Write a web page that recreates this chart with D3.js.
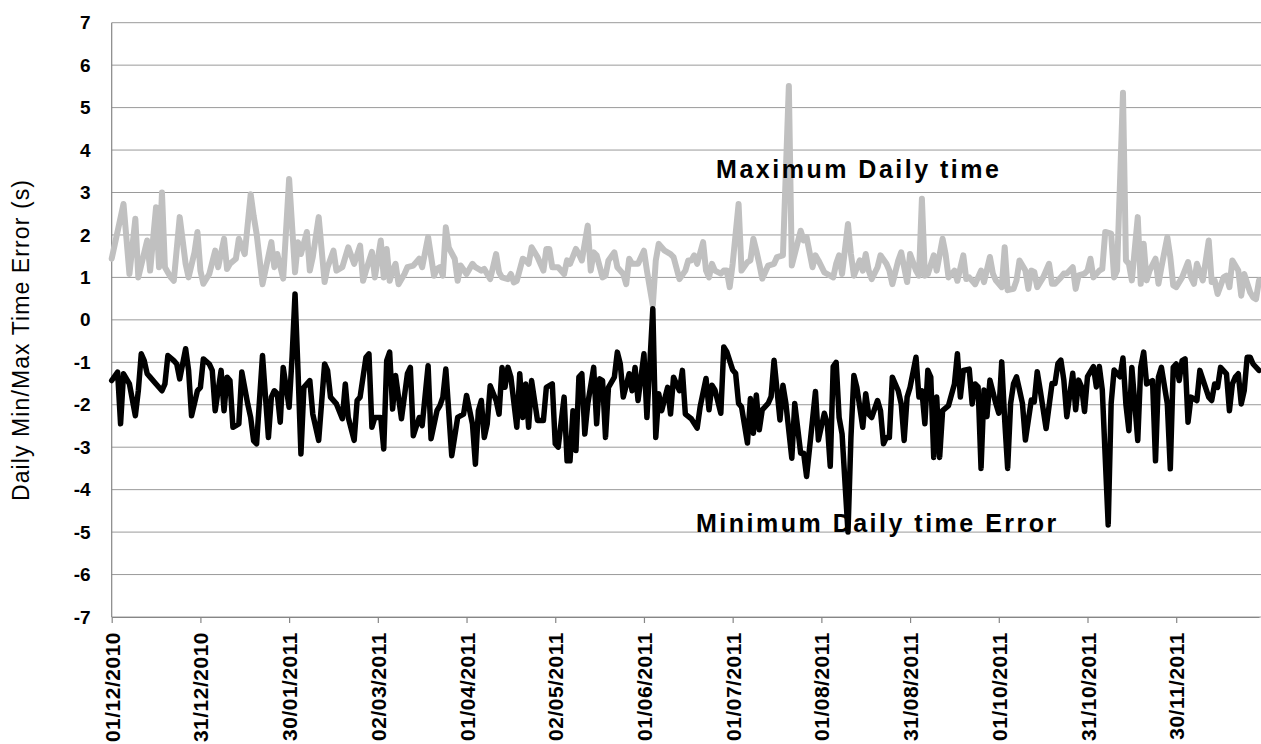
<!DOCTYPE html>
<meta charset="utf-8">
<script src="https://cdn.jsdelivr.net/npm/d3@7/dist/d3.min.js"></script>
<style>
body { margin: 0; background: #fff; }
text { font-family: "Liberation Sans", Arial, sans-serif; fill: #000; }
.grid line { stroke: #9a9a9a; stroke-width: 1px; }
.axis path, .axis line { stroke: #868686; stroke-width: 1.2px; }
.axis text { font-weight: bold; }
.line { fill: none; stroke-linejoin: round; stroke-linecap: round; }
</style>
<body>
<script>

// y axis ticks
var yTicks = [-7, -6, -5, -4, -3, -2, -1, 0, 1, 2, 3, 4, 5, 6, 7];

// x labels sit on every 30th day of the series
var xTickDays = [0, 30, 60, 90, 120, 150, 180, 210, 240, 270, 300, 330, 360];
var xLabels = ["01/12/2010", "31/12/2010", "30/01/2011", "02/03/2011", "01/04/2011",
  "02/05/2011", "01/06/2011", "01/07/2011", "01/08/2011", "31/08/2011",
  "01/10/2011", "31/10/2011", "30/11/2011"];
var lastDay = 388;

// maximum daily time error (grey) - day index, value (s)
var maxDays = [0,4,6,8,9,12,13,15,16,17,18,20,21,23,25,26,28,29,30,31,33,35,36,38,39,40,42,43,45,47,48,49,51,54,55,56,58,60,62,63,64,66,67,68,70,72,73,75,76,78,80,82,84,85,86,88,89,91,92,93,94,95,96,97,99,100,102,103,104,105,107,109,110,111,112,113,114,116,117,118,120,122,123,125,126,128,130,131,132,134,135,136,137,139,140,141,142,144,146,147,148,149,151,153,154,155,157,158,159,161,162,163,164,166,167,168,170,171,172,173,174,175,176,178,180,181,183,184,185,187,189,190,192,194,195,196,197,198,200,201,202,203,204,206,207,208,209,210,212,213,215,216,217,218,219,220,222,224,225,227,229,230,233,234,235,237,238,239,241,242,244,245,246,247,249,250,251,253,254,255,256,257,259,260,262,263,264,266,267,269,270,272,273,274,275,276,278,279,281,282,283,285,286,288,289,290,292,293,294,295,297,298,299,301,302,303,305,306,307,309,310,311,312,313,315,317,318,319,321,322,323,325,326,327,329,330,331,332,334,335,336,338,339,340,342,343,344,345,347,348,349,350,351,353,354,355,357,358,359,360,362,364,365,366,367,369,371,372,373,374,376,377,378,379,381,382,383,385,386,387,388];
var maxVals = [1.44,2.73,1.08,2.38,1.0,1.87,1.16,2.65,1.24,3.0,1.24,1.0,0.92,2.42,1.32,1.0,1.59,2.07,1.16,0.85,1.08,1.63,1.24,1.91,1.2,1.32,1.44,1.91,1.55,2.96,2.45,2.03,0.84,1.83,1.24,1.55,0.97,3.32,1.12,1.83,1.55,2.07,1.16,1.48,2.42,0.89,1.24,1.63,1.16,1.24,1.71,1.32,1.75,0.92,1.16,1.6,1.0,1.87,1.0,1.67,0.92,1.16,1.32,0.84,1.08,1.24,1.28,1.36,1.44,1.24,1.95,1.04,1.2,1.24,1.04,2.18,1.7,1.44,0.92,1.28,1.08,1.32,1.24,1.16,1.2,0.96,1.55,1.12,1.0,0.96,1.08,0.88,0.92,1.44,1.4,1.32,1.71,1.48,1.16,1.67,1.67,1.24,1.24,1.08,1.4,1.32,1.67,1.55,1.4,2.22,1.16,1.59,1.52,1.0,1.04,1.4,1.59,1.24,1.16,1.08,0.84,1.44,1.32,1.32,1.63,1.16,0.34,1.4,1.79,1.63,1.55,1.48,0.96,1.16,1.4,1.4,1.52,1.32,1.83,1.16,1.0,1.32,1.16,1.09,1.16,1.16,0.77,1.32,2.73,1.16,1.36,1.4,1.91,1.63,1.32,0.97,1.28,1.32,1.48,1.52,5.51,1.28,2.1,1.87,1.95,1.24,1.52,1.4,1.12,1.08,1.0,1.32,1.52,1.08,2.26,1.55,1.04,1.4,1.16,1.55,1.16,0.96,1.24,1.52,1.32,1.16,0.84,1.4,1.59,0.89,1.55,1.16,1.04,2.85,1.04,1.08,1.52,1.16,1.91,1.55,1.0,1.16,0.92,1.52,0.96,1.0,0.84,1.0,1.16,0.89,1.48,1.09,0.93,0.77,1.71,0.7,0.73,0.93,1.4,1.16,0.73,1.16,1.13,0.77,1.0,1.32,0.85,0.85,1.0,1.09,1.09,1.24,0.73,1.05,1.09,1.16,1.44,1.0,1.16,1.2,2.07,2.03,1.0,1.16,5.35,1.4,1.32,0.93,2.42,0.85,1.79,0.93,1.16,1.44,0.85,1.24,1.95,1.48,0.81,0.77,1.0,1.36,1.0,0.85,1.32,0.93,1.87,0.89,0.93,0.61,1.0,1.04,0.77,1.4,1.16,0.57,1.08,0.65,0.53,0.49,0.93];

// minimum daily time error (black) - day index, value (s)
var minDays = [0,2,3,4,6,8,9,10,11,12,13,15,17,18,19,21,22,23,25,26,27,29,30,31,33,34,35,37,38,39,40,41,43,44,46,47,48,49,51,53,54,55,56,57,58,60,61,62,63,64,65,67,68,70,72,73,74,76,78,79,80,82,83,84,86,87,88,89,91,92,93,94,95,96,98,100,101,102,104,105,107,108,110,111,112,113,115,117,119,120,122,123,124,125,126,127,128,130,131,132,133,134,135,137,138,139,140,141,142,144,146,147,149,150,151,153,154,155,156,157,158,159,160,161,163,164,165,166,167,168,170,171,172,173,175,176,177,178,180,181,183,184,185,186,188,189,190,192,193,194,196,198,199,201,202,203,204,206,207,208,210,211,212,213,215,216,217,218,219,220,222,223,224,226,227,228,230,231,233,234,235,237,238,239,241,242,243,244,245,246,247,249,250,251,252,254,255,256,257,259,260,261,262,263,264,266,267,268,269,270,272,273,274,275,276,277,278,279,280,281,283,285,286,287,288,290,291,292,293,294,295,296,297,299,300,301,302,303,304,305,306,307,308,309,311,312,313,314,316,318,319,320,321,322,323,325,326,327,328,329,330,332,333,334,335,337,338,339,341,342,343,344,345,347,348,349,350,352,353,354,355,357,358,359,360,361,362,363,364,365,367,368,371,372,373,374,375,377,378,379,380,381,382,383,384,385,386,388];
var minVals = [-1.43,-1.23,-2.45,-1.27,-1.51,-2.26,-1.67,-0.8,-0.96,-1.27,-1.35,-1.51,-1.67,-1.51,-0.84,-0.96,-1.04,-1.39,-0.68,-1.19,-2.26,-1.67,-1.59,-0.92,-1.04,-1.19,-2.14,-1.19,-2.14,-1.35,-1.43,-2.53,-2.45,-1.23,-1.98,-2.3,-2.85,-2.92,-0.84,-2.77,-1.82,-1.67,-1.74,-2.41,-1.12,-2.06,-0.88,0.61,-1.19,-3.16,-1.59,-1.43,-2.22,-2.84,-1.04,-1.19,-1.82,-1.98,-2.33,-1.51,-2.3,-2.84,-1.9,-1.82,-0.88,-0.8,-2.53,-2.3,-2.3,-3.04,-0.96,-0.76,-2.1,-1.31,-2.33,-1.27,-1.12,-2.73,-2.3,-2.49,-1.08,-2.8,-2.14,-2.02,-1.82,-1.16,-3.2,-2.3,-2.22,-1.78,-2.45,-3.4,-2.14,-1.9,-2.77,-2.45,-1.55,-1.9,-2.22,-1.12,-1.59,-1.12,-1.35,-2.53,-1.27,-2.3,-1.51,-2.53,-1.43,-2.37,-2.37,-1.59,-1.51,-2.92,-3.0,-1.82,-3.32,-3.32,-2.14,-3.08,-1.35,-1.27,-2.69,-1.98,-1.12,-2.45,-1.39,-1.43,-2.77,-1.59,-1.35,-0.76,-1.04,-1.82,-1.27,-1.67,-1.12,-1.9,-0.8,-2.3,0.26,-2.77,-1.74,-2.14,-1.59,-2.22,-1.35,-1.67,-1.19,-2.22,-2.33,-2.55,-2.05,-1.38,-2.12,-1.54,-1.65,-2.2,-0.64,-0.75,-1.18,-1.26,-1.97,-2.05,-2.9,-1.85,-2.67,-1.77,-2.59,-2.12,-1.97,-1.81,-0.95,-2.36,-1.54,-1.97,-3.26,-1.97,-3.14,-3.14,-3.69,-2.36,-1.69,-2.83,-2.2,-2.44,-3.45,-1.1,-1.0,-2.3,-2.69,-5.0,-2.77,-1.31,-1.59,-2.53,-1.74,-2.22,-2.3,-1.9,-2.14,-2.92,-2.77,-2.77,-1.35,-1.67,-1.98,-2.84,-1.82,-1.59,-0.88,-1.82,-1.67,-2.45,-1.19,-1.35,-3.24,-1.82,-3.24,-2.14,-2.02,-1.51,-0.8,-1.82,-1.19,-1.16,-1.98,-1.51,-1.58,-3.5,-1.65,-2.28,-1.42,-1.97,-2.2,-0.99,-2.36,-3.5,-1.97,-1.5,-1.34,-1.65,-1.97,-2.83,-1.89,-1.93,-1.22,-1.65,-2.56,-1.5,-1.5,-1.03,-0.95,-1.42,-2.28,-1.26,-2.12,-1.42,-1.58,-2.16,-1.34,-1.1,-1.58,-1.1,-1.65,-4.83,-1.97,-1.18,-1.34,-0.9,-2.0,-2.61,-1.12,-2.84,-1.12,-0.76,-1.51,-1.43,-3.32,-1.35,-1.12,-1.98,-3.51,-1.12,-1.04,-1.43,-0.96,-0.92,-2.41,-1.82,-1.9,-1.19,-1.82,-1.9,-1.51,-1.59,-1.12,-1.27,-2.14,-1.51,-1.35,-1.27,-1.98,-1.67,-0.88,-0.88,-1.04,-1.19];

// in-chart labels: text, day index of left edge, value of baseline
var noteText = ["Maximum Daily time", "Minimum Daily time Error"];
var noteDay = [204.4, 197.6];
var noteVal = [3.34, -5.0];

var yTitle = "Daily Min/Max Time Error (s)";

var margin = {top: 22.7, right: 2, bottom: 127, left: 111.7},
    width = 1261 - margin.left - margin.right,
    height = 744 - margin.top - margin.bottom;

var x = d3.scaleLinear().domain([0, lastDay]).range([0, width]);
var y = d3.scaleLinear().domain([-7, 7]).range([height, 0]);

var svg = d3.select("body").append("svg")
    .attr("width", 1261)
    .attr("height", 744)
  .append("g")
    .attr("transform", "translate(" + margin.left + "," + margin.top + ")");

// horizontal gridlines
svg.append("g")
    .attr("class", "grid")
  .selectAll("line")
    .data(yTicks)
  .enter().append("line")
    .attr("x1", 0)
    .attr("x2", width + margin.right)
    .attr("y1", function(d) { return y(d); })
    .attr("y2", function(d) { return y(d); });

// Y axis
var yAxis = svg.append("g")
    .attr("class", "axis")
    .call(d3.axisLeft(y).tickValues(yTicks).tickSize(0).tickPadding(21)
      .tickFormat(function(d) { return String(d); }));
yAxis.select(".domain").attr("d", "M0," + height + "V0");
yAxis.selectAll("text").style("font-size", "19px");

// X axis
var xAxis = svg.append("g")
    .attr("class", "axis")
    .attr("transform", "translate(0," + height + ")")
    .call(d3.axisBottom(x).tickValues(xTickDays).tickSize(6).tickSizeOuter(0)
      .tickFormat(function(d, i) { return xLabels[i]; }));
xAxis.selectAll("text")
    .style("font-size", "21px")
    .style("letter-spacing", "0.5px")
    .style("text-anchor", "end")
    .attr("x", -15)
    .attr("y", 0)
    .attr("dy", "0.36em")
    .attr("transform", "rotate(-90)");

// lines
var maxLine = d3.line()
    .x(function(d, i) { return x(maxDays[i]); })
    .y(function(d) { return y(d); });
var minLine = d3.line()
    .x(function(d, i) { return x(minDays[i]); })
    .y(function(d) { return y(d); });

svg.append("path")
    .datum(maxVals)
    .attr("class", "line")
    .style("stroke", "#c0c0c0")
    .style("stroke-width", "6px")
    .attr("d", maxLine);

svg.append("path")
    .datum(minVals)
    .attr("class", "line")
    .style("stroke", "#000")
    .style("stroke-width", "5.5px")
    .attr("d", minLine);

// labels on the chart
svg.selectAll(".note")
    .data(noteText)
  .enter().append("text")
    .attr("class", "note")
    .attr("x", function(d, i) { return x(noteDay[i]); })
    .attr("y", function(d, i) { return y(noteVal[i]); })
    .style("font-size", "25px")
    .style("font-weight", "bold")
    .style("letter-spacing", "2.5px")
    .text(function(d) { return d; });

// y axis title
svg.append("text")
    .attr("transform", "rotate(-90)")
    .attr("x", -(340 - margin.top))
    .attr("y", -margin.left + 21)
    .attr("dy", "0.35em")
    .style("text-anchor", "middle")
    .style("font-size", "23px")
    .style("letter-spacing", "1.1px")
    .text(yTitle);

</script>
</body>
